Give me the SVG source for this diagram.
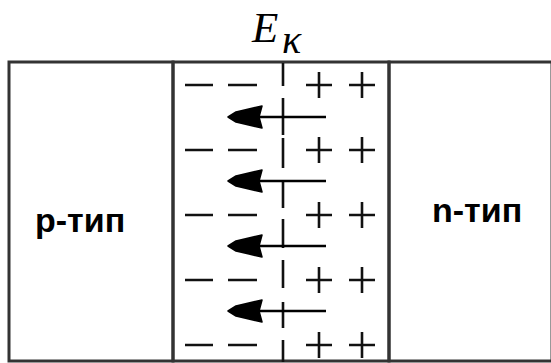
<svg xmlns="http://www.w3.org/2000/svg" width="551" height="363" viewBox="0 0 551 363">
<style>
.b{stroke:#333;stroke-width:3;fill:none}
.s{stroke:#111;stroke-width:2.6;fill:none}
.lbl{font-family:"Liberation Sans",Arial,sans-serif;font-weight:bold;font-size:34px;fill:#000}
.m{font-family:"Liberation Serif","Times New Roman",serif;font-style:italic;fill:#000}
.ah{fill:#000;stroke:#000;stroke-width:1.5;stroke-linejoin:round}
.al{stroke:#000;stroke-width:2.4;fill:none}
</style>
<rect width="551" height="363" fill="#fff"/>
<g id="p-region">
<rect class="b" x="9" y="62" width="164" height="299"/>
<text class="lbl" x="35" y="232">р-тип</text>
</g>
<g id="depletion">
<rect class="b" x="173" y="62" width="216" height="299"/>
<g class="s">
<path d="M185,85H213M228,85H257M185,150H213M228,150H257M185,215H213M228,215H257M185,280H213M228,280H257M185,345H213M228,345H257"/>
<path d="M306,85H332M319,72V98M349,85H375M362,72V98M306,150H332M319,137V163M349,150H375M362,137V163M306,215H332M319,202V228M349,215H375M362,202V228M306,280H332M319,267V293M349,280H375M362,267V293M306,345H332M319,332V358M349,345H375M362,332V358"/>
<path d="M283,63V86M283,98V135M283,138V168M283,181V208M283,219V248M283,260V288M283,302V328M283,340V362"/>
</g>
</g>
<g id="n-region">
<rect class="b" x="389" y="62" width="163" height="299"/>
<text class="lbl" x="432" y="222">n-тип</text>
</g>
<g id="label">
<text class="m" x="252" y="42" font-size="43">E</text>
<text class="m" x="282" y="53" font-size="40">κ</text>
</g>
<g id="connectors">
<g transform="translate(0,117)"><path class="al" d="M250,0H326"/><path class="ah" d="M228,0 L236,-5 L262,-11 L259,0 L262,11 L236,5 Z"/></g>
<g transform="translate(0,181)"><path class="al" d="M250,0H326"/><path class="ah" d="M228,0 L236,-5 L262,-11 L259,0 L262,11 L236,5 Z"/></g>
<g transform="translate(0,246)"><path class="al" d="M250,0H326"/><path class="ah" d="M228,0 L236,-5 L262,-11 L259,0 L262,11 L236,5 Z"/></g>
<g transform="translate(0,311)"><path class="al" d="M250,0H326"/><path class="ah" d="M228,0 L236,-5 L262,-11 L259,0 L262,11 L236,5 Z"/></g>
</g>
</svg>
